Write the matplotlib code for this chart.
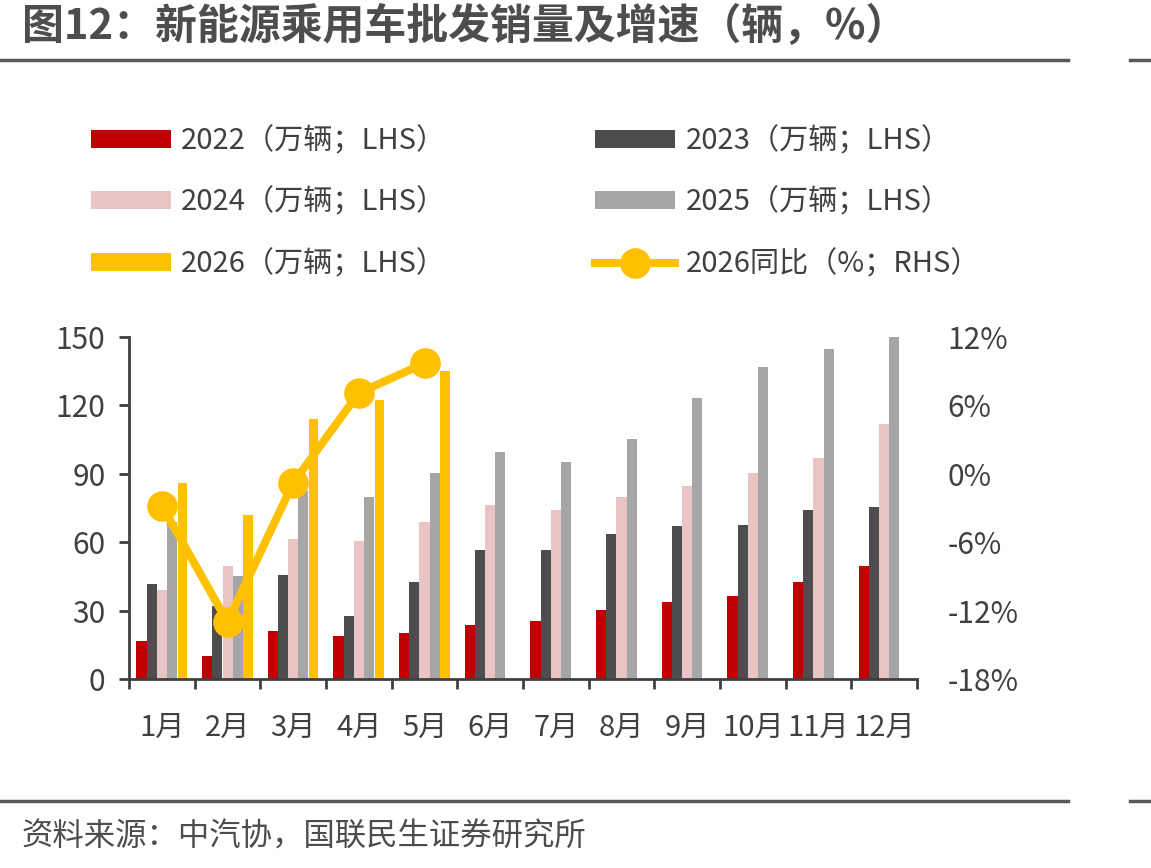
import matplotlib.pyplot as plt
import numpy as np
from matplotlib.lines import Line2D

plt.rcParams['font.family'] = ['Noto Sans CJK SC', 'DejaVu Sans']

months = ['1月', '2月', '3月', '4月', '5月', '6月', '7月', '8月', '9月', '10月', '11月', '12月']
v2022 = [16.7, 10.1, 20.9, 18.9, 20.0, 23.7, 25.3, 30.3, 33.8, 36.3, 42.4, 49.4]
v2023 = [41.5, 32.0, 45.6, 27.8, 42.4, 56.4, 56.4, 63.4, 67.1, 67.5, 74.0, 75.3]
v2024 = [38.9, 49.6, 61.4, 60.5, 68.7, 76.3, 74.0, 79.7, 84.6, 90.4, 97.1, 111.8]
v2025 = [69.0, 45.0, 82.5, 79.8, 90.4, 99.6, 95.0, 105.1, 123.1, 136.7, 144.6, 150.1]
v2026 = [86.0, 71.9, 114.0, 122.2, 134.9]
yoy2026 = [-2.8, -13.0, -0.8, 7.1, 9.7]

c22, c23, c24, c25, c26 = '#C00000', '#4D4D4F', '#EAC4C4', '#A6A6A6', '#FFC000'
txt = '#404040'

fig = plt.figure(figsize=(11.51, 8.68), dpi=100)
ax = fig.add_axes([0.1121, 0.2177, 0.6846, 0.394])
ax2 = ax.twinx()

x = np.arange(len(months))
w = 0.153
step = 0.155
b1 = ax.bar(x - 2 * step, v2022, w, color=c22, label='2022（万辆；LHS）')
b2 = ax.bar(x - step, v2023, w, color=c23, label='2023（万辆；LHS）')
b3 = ax.bar(x, v2024, w, color=c24, label='2024（万辆；LHS）')
b4 = ax.bar(x + step, v2025, w, color=c25, label='2025（万辆；LHS）')
b5 = ax.bar(x[:len(v2026)] + 2 * step, v2026, w * 0.93, color=c26, label='2026（万辆；LHS）')
ln, = ax2.plot(x[:len(yoy2026)], yoy2026, color=c26, lw=5.8, marker='o', ms=21,
               label='2026同比（%；RHS）')

ax.set_xlim(-0.5, 11.5)
ax.set_ylim(0, 150)
ax.set_yticks(np.arange(0, 151, 30))
ax2.set_ylim(-18, 12)
ax2.set_yticks(np.arange(-18, 13, 6))
ax2.set_yticklabels([f'{v}%' for v in range(-18, 13, 6)])

ax.set_xticks(x)
ax.set_xticklabels(months)
ax.set_xticks(np.arange(-0.5, 12, 1), minor=True)
ax.tick_params(axis='x', which='major', length=0, pad=24, labelsize=21, labelcolor=txt)
ax.tick_params(axis='x', which='minor', length=7, width=2, color='#404040', direction='out')
ax.tick_params(axis='y', length=7, width=2, color='#404040', pad=10, labelsize=21.5, labelcolor=txt)
ax2.tick_params(axis='y', length=0, pad=22, labelsize=21.5, labelcolor=txt)

for a in (ax, ax2):
    for s in ('top', 'right'):
        a.spines[s].set_visible(False)
ax2.spines['left'].set_visible(False)
ax2.spines['bottom'].set_visible(False)
ax.spines['left'].set_color('#404040')
ax.spines['bottom'].set_color('#404040')
ax.spines['left'].set_linewidth(2)
ax.spines['bottom'].set_linewidth(2)

handles = [b1, b3, b5, b2, b4, ln]
fig.legend(handles, [h.get_label() for h in handles], ncol=2, frameon=False,
           loc='upper left', bbox_to_anchor=(0.056, 0.885), fontsize=21,
           handlelength=2.75, handleheight=0.55, handletextpad=0.35,
           labelspacing=1.08, columnspacing=5.1, labelcolor=txt)

# header / footer
fig.text(0.019, 0.969, '图12：新能源乘用车批发销量及增速（辆，%）', fontsize=30.2,
         fontweight='bold', color='#4D4D4D', va='center', ha='left')
fig.text(0.019, 0.036, '资料来源：中汽协，国联民生证券研究所', fontsize=22.6,
         color='#4D4D4D', va='center', ha='left')
for yy in (1 - 60 / 868, 1 - 801 / 868):
    fig.add_artist(Line2D([0, 1068 / 1151], [yy, yy], color='#595959', lw=2.5))
    fig.add_artist(Line2D([1130 / 1151, 1], [yy, yy], color='#595959', lw=2.5))

plt.savefig('out.png', dpi=100)
